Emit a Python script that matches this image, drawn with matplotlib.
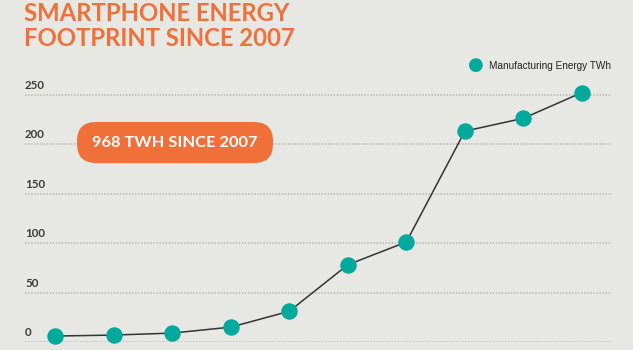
import matplotlib.pyplot as plt
from matplotlib.patches import FancyBboxPatch

# Energieverbrauch in der Herstellung (TWh), ein Punkt pro Jahr
years = [2007, 2008, 2009, 2010, 2011, 2012, 2013, 2014, 2015, 2016]
energy = [6, 7, 9, 15, 31, 78, 101, 213, 226, 252]
yticks = [0, 50, 100, 150, 200, 250]

bg = "#e7e7e3"
orange = "#f0703a"
teal = "#00a99c"

plt.rcParams["font.family"] = ["Lato", "DejaVu Sans"]

fig = plt.figure(figsize=(6.33, 3.5), dpi=100, facecolor=bg)
ax = fig.add_axes([25 / 633, 8 / 350, 587 / 633, 257.4 / 350])
ax.set_facecolor(bg)
ax.set_xlim(2006.488, 2016.512)
ax.set_ylim(0, 260)

for s in ax.spines.values():
    s.set_visible(False)
ax.set_xticks([])
ax.set_yticks([])

# Gitterlinien und Beschriftung oberhalb der Linie
for v in yticks:
    ax.axhline(v, color="#b8b8b8", lw=1.1, ls=(0, (1, 1)), zorder=1)
    ax.text(2006.488, v + 4, str(v), ha="left", va="bottom", fontsize=8.3,
            fontweight="bold", color="#3a3a3a")

ax.plot(years, energy, color="#333333", lw=1.1, zorder=2)
ax.scatter(years, energy, s=140, color=teal, zorder=3, clip_on=False,
           linewidths=0)

# Legende oben rechts
fig.text(476 / 633, 1 - 65 / 350, "●", color=teal, fontsize=13,
         ha="center", va="center", family="DejaVu Sans")
fig.text(489 / 633, 1 - 66 / 350, "Manufacturing Energy TWh", fontsize=7.2,
         color="#222222", ha="left", va="center", family="Liberation Sans")

# Hinweis-Box
box = FancyBboxPatch((77 / 633, 1 - 163 / 350), 196 / 633, 41 / 350,
                     boxstyle="round,pad=0,rounding_size=0.03",
                     transform=fig.transFigure, facecolor=orange,
                     edgecolor="none", mutation_aspect=633 / 350)
fig.patches.append(box)
fig.text(175 / 633, 1 - 143 / 350, "968 TWH SINCE 2007", color="white",
         fontsize=11.8, fontweight="bold", ha="center", va="center")

# Titel
fig.text(24 / 633, 1 - 2 / 350, "SMARTPHONE ENERGY\nFOOTPRINT SINCE 2007",
         color=orange, fontsize=17.2, fontweight="bold", ha="left", va="top",
         linespacing=1.1)

fig.savefig("out.png", dpi=100, facecolor=bg)
